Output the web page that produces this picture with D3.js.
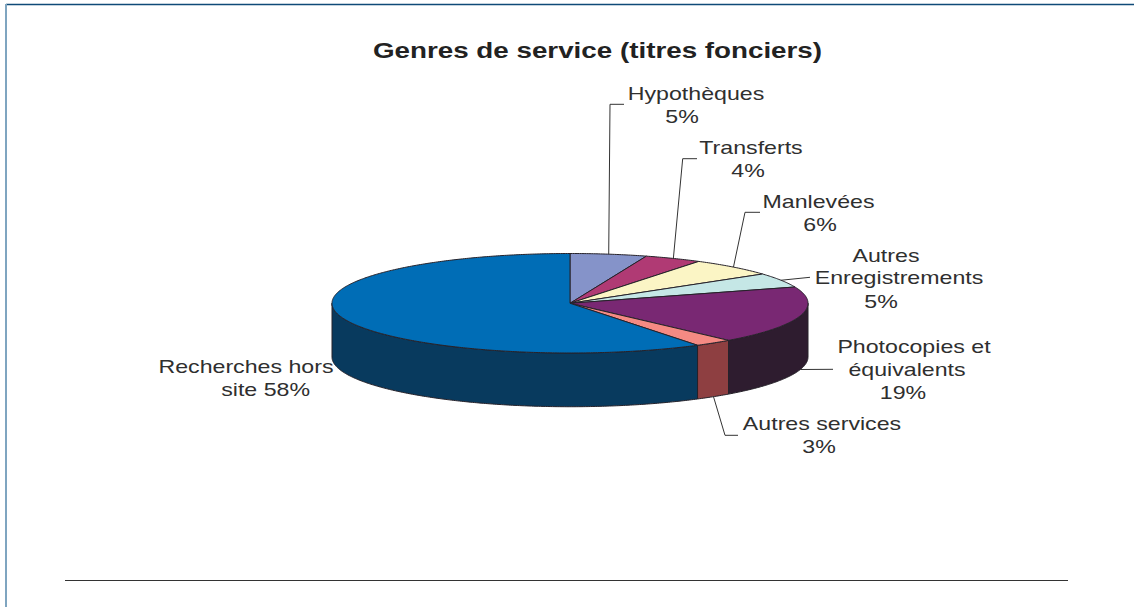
<!DOCTYPE html>
<html lang="fr">
<head>
<meta charset="utf-8">
<title>Genres de service (titres fonciers)</title>
<script src="https://cdn.jsdelivr.net/npm/d3@7"></script>
<style>
  html, body { margin: 0; padding: 0; background: #fff; }
  svg { display: block; }
  text { font-family: "Liberation Sans", Arial, sans-serif; fill: #2f2f2f; }
</style>
</head>
<body>
<svg id="viz" width="1134" height="607"></svg>
<script>
const titleText = 'Genres de service (titres fonciers)';
const categories = ['Hypothèques', 'Transferts', 'Manlevées', 'Autres Enregistrements', 'Photocopies et équivalents', 'Autres services', 'Recherches hors site'];
// slice sizes as measured on the drawn pie; the printed percentages are rounded
const sliceValues = [5.2, 3.9, 5.9, 4.7, 18.7, 2.6, 59];
const printedLabels = [
  ['Hypothèques', '5%'],
  ['Transferts', '4%'],
  ['Manlevées', '6%'],
  ['Autres', 'Enregistrements', '5%'],
  ['Photocopies et', 'équivalents', '19%'],
  ['Autres services', '3%'],
  ['Recherches hors', 'site 58%'],
];
const topColors = ['#8593c9', '#b03a74', '#fbf5c5', '#c5e7e6', '#792873', '#f58a83', '#006db6'];
const sideColors = ['#4f5878', '#6a2346', '#969376', '#768a8a', '#2e1c2f', '#8e3f41', '#083a5e'];

// layout of the label lines: [centre x, baseline y]
const labelPos = [
  [[696, 100], [682, 122.7]],
  [[751, 154], [748, 176.7]],
  [[818.5, 208], [820, 230.7]],
  [[886, 261.7], [899, 284], [881, 307.7]],
  [[914, 353], [907, 375.7], [903, 399]],
  [[822, 430], [819, 452.7]],
  [[246, 373.3], [265.6, 396]],
];
// leader bends after the start point on the pie, null = no leader
const leaderBends = [
  [[610, 104.3], [624, 104.3]],
  [[682.7, 158.7], [697, 158.7]],
  [[745, 212.3], [760, 212.3]],
  [[810, 277.3]],
  [[833, 369.3]],
  [[725, 435.3], [738, 435.3]],
  null,
];

const svg = d3.select('#viz');

const xScale = d3.scaleLinear().domain([-1, 1]).range([332, 808]);
const yScale = d3.scaleLinear().domain([-1, 1]).range([253.5, 353]);
const depth = 1.08; // pie height, in units of the y scale

const px = a => xScale(Math.sin(a));
const py = (a, drop = 0) => yScale(-Math.cos(a) + drop);
const line = d3.line();

function arcAngles(a0, a1) {
  const n = Math.max(2, Math.ceil((a1 - a0) / 0.01));
  return d3.range(n + 1).map(i => a0 + (a1 - a0) * i / n);
}

// page furniture
svg.append('line').attr('x1', 6).attr('x2', 1134).attr('y1', 4.5).attr('y2', 4.5)
  .attr('stroke', '#0f4a78').attr('stroke-width', 1.5);
svg.append('line').attr('x1', 6).attr('x2', 6).attr('y1', 4).attr('y2', 607)
  .attr('stroke', '#7fa5c0').attr('stroke-width', 2);
svg.append('line').attr('x1', 65).attr('x2', 1068).attr('y1', 580.5).attr('y2', 580.5)
  .attr('stroke', '#333').attr('stroke-width', 1);

svg.append('text')
  .attr('transform', 'translate(597.5,58) scale(1.235,1)')
  .attr('text-anchor', 'middle')
  .attr('font-size', 22.5)
  .attr('font-weight', 'bold')
  .style('fill', '#222')
  .text(titleText);

const arcs = d3.pie().sort(null).startAngle(0).endAngle(2 * Math.PI)(sliceValues);

const g = svg.append('g').attr('stroke', '#26222a').attr('stroke-width', 1).attr('stroke-linejoin', 'round');

// side wall: only the front half of the rim shows
g.selectAll('path.side')
  .data(arcs.filter(d => d.endAngle > Math.PI / 2 && d.startAngle < 3 * Math.PI / 2))
  .join('path')
  .attr('class', 'side')
  .attr('fill', d => sideColors[d.index])
  .attr('d', d => {
    const a0 = Math.max(d.startAngle, Math.PI / 2);
    const a1 = Math.min(d.endAngle, 3 * Math.PI / 2);
    const angles = arcAngles(a0, a1);
    const pts = angles.map(a => [px(a), py(a)])
      .concat(angles.slice().reverse().map(a => [px(a), py(a, depth)]));
    return line(pts) + 'Z';
  });

g.selectAll('path.top')
  .data(arcs)
  .join('path')
  .attr('class', 'top')
  .attr('fill', d => topColors[d.index])
  .attr('d', d => {
    const pts = [[xScale(0), yScale(0)]]
      .concat(arcAngles(d.startAngle, d.endAngle).map(a => [px(a), py(a)]));
    return line(pts) + 'Z';
  });

// leaders start from the middle of each slice's rim
const leaders = arcs.filter(d => leaderBends[d.index]);
svg.selectAll('path.leader')
  .data(leaders)
  .join('path')
  .attr('class', 'leader')
  .attr('fill', 'none')
  .attr('stroke', '#333')
  .attr('stroke-width', 1)
  .attr('d', d => {
    const mid = (d.startAngle + d.endAngle) / 2;
    const front = mid > Math.PI / 2 && mid < 3 * Math.PI / 2;
    return line([[px(mid), py(mid, front ? depth : 0)]].concat(leaderBends[d.index]));
  });

const labelRows = printedLabels.flatMap((lines, i) =>
  lines.map((t, j) => ({ t, x: labelPos[i][j][0], y: labelPos[i][j][1] })));

svg.selectAll('text.label')
  .data(labelRows)
  .join('text')
  .attr('class', 'label')
  .attr('transform', d => `translate(${d.x},${d.y}) scale(1.245,1)`)
  .attr('text-anchor', 'middle')
  .attr('font-size', 18.6)
  .text(d => d.t);
</script>
</body>
</html>
